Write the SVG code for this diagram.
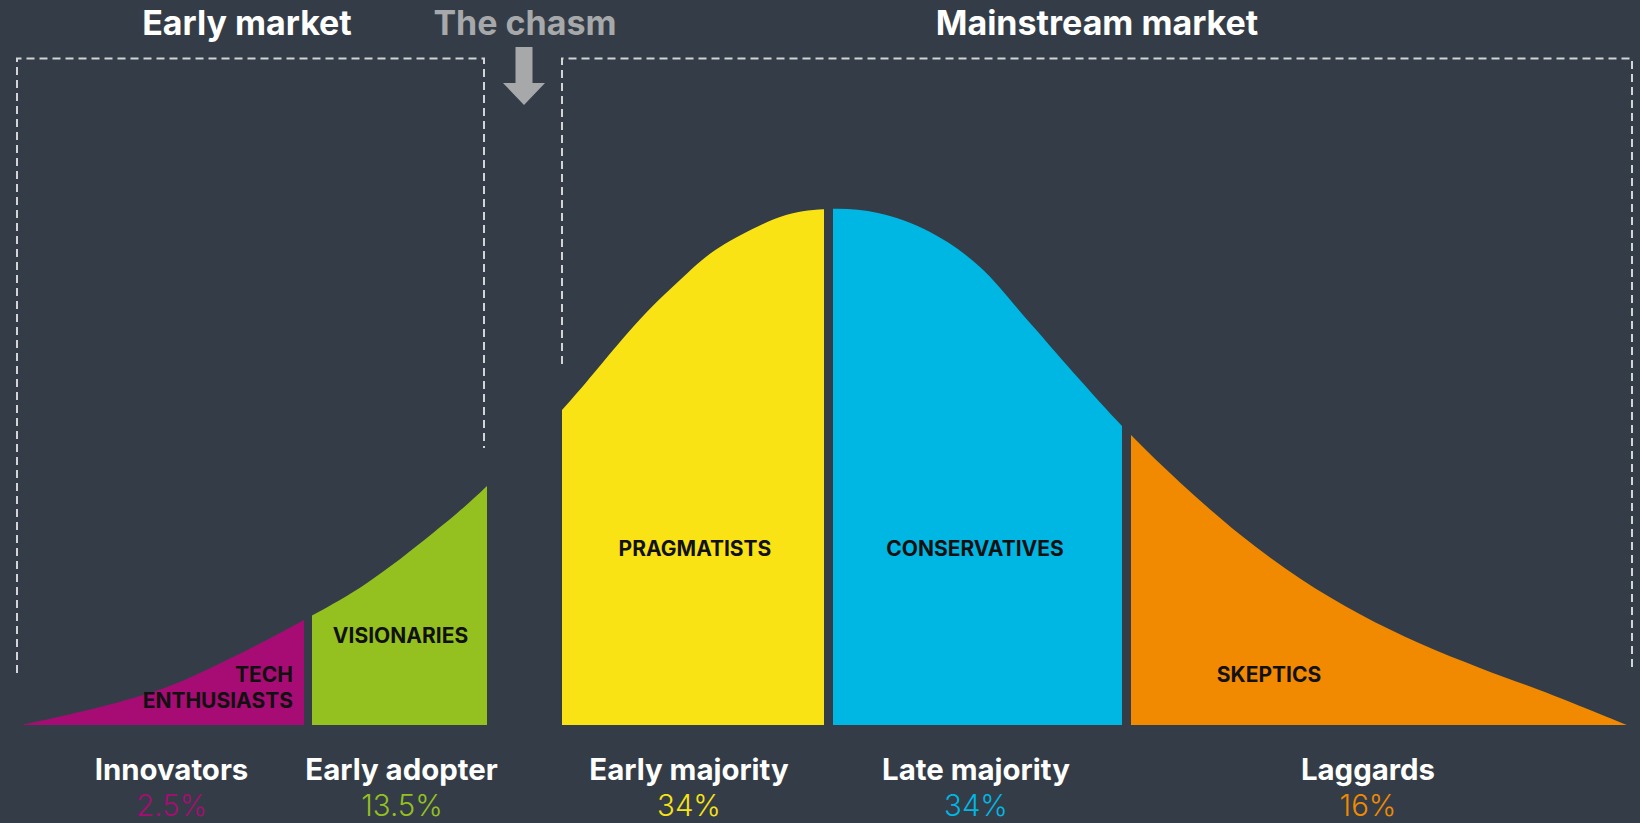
<svg xmlns="http://www.w3.org/2000/svg" xmlns:xlink="http://www.w3.org/1999/xlink" width="1640" height="823" viewBox="0 0 1640 823">
  <style>
    .title { font-family: Inter, "Noto Sans", "Liberation Sans", sans-serif; font-weight: 700; font-size: 34px; text-anchor: middle; }
    .lbl { font-family: Inter, "Noto Sans", "Liberation Sans", sans-serif; font-weight: 700; font-size: 29.4px; fill: #ffffff; text-anchor: middle; }
    .pct { font-family: Inter, "Noto Sans", "Liberation Sans", sans-serif; font-weight: 300; font-size: 29.4px; text-anchor: middle; }
    .inner { font-family: Inter, "Noto Sans", "Liberation Sans", sans-serif; font-weight: 700; font-size: 21px; fill: #111111; text-anchor: middle; }
    .dash { fill: none; stroke: #d2d4d6; stroke-width: 2; stroke-dasharray: 8 5; }
  </style>
  <defs>
    <path id="bell" d="M22 725 C35 722 75.8 713.3 100 707 S144.8 695.3 167 687 S210.2 668.2 233 657 S281.7 632.3 304 620 S345.5 597.5 367 583 S413 549.2 433 533 S465.5 506.5 487 486 S537.7 436.5 562 410 S613.3 348.7 633 327 S665.5 293.3 680 280 S703.3 257.5 720 247 S762 223.3 780 217 S811.7 209.7 828 209 S861 209.2 878 213 S913 223 930 232 S963.3 251.8 980 267 S1013.3 304.2 1030 323 S1064.2 362.3 1080 380 S1108.3 411.9 1125 429 S1160.8 464.9 1180 482.5 S1220 518.5 1240 534.5 S1280 565.2 1300 578.5 S1340 603.5 1360 614.3 S1400 634.65 1420 643.6 S1460 660.2 1480 668 S1521.7 683.3 1540 690.3 S1575.5 704.2 1590 710 S1620.8 722.5 1627 725 Z"/>
    <clipPath id="c-inn"><rect x="0" y="0" width="304" height="725"/></clipPath>
    <clipPath id="c-ea"><rect x="312" y="0" width="175" height="725"/></clipPath>
    <clipPath id="c-em"><rect x="562" y="0" width="262" height="725"/></clipPath>
    <clipPath id="c-lm"><rect x="833" y="0" width="289" height="725"/></clipPath>
    <clipPath id="c-lag"><rect x="1131" y="0" width="509" height="725"/></clipPath>
  </defs>

  <rect x="0" y="0" width="1640" height="823" fill="#343d47"/>

  <g id="titles">
    <text class="title" x="247" y="35" fill="#ffffff">Early market</text>
    <text class="title" x="525" y="35" fill="#a6a8aa">The chasm</text>
    <text class="title" x="1097" y="35" fill="#ffffff">Mainstream market</text>
  </g>

  <g id="connectors">
    <path class="dash" d="M17 673 V58.5 H484 V448"/>
    <path class="dash" d="M562 364 V58.5 H1632 V672"/>
  </g>

  <g id="chasm-arrow">
    <polygon points="515.5,47 532.5,47 532.5,83 545,83 524,105 503,83 515.5,83" fill="#a6a8aa"/>
  </g>

  <g id="innovators">
    <use xlink:href="#bell" href="#bell" fill="#a60c74" clip-path="url(#c-inn)"/>
    <text class="inner" x="293" y="682" style="text-anchor:end">TECH</text>
    <text class="inner" x="293" y="708" style="text-anchor:end">ENTHUSIASTS</text>
    <text class="lbl" x="171.5" y="780">Innovators</text>
    <text class="pct" x="171.5" y="816" fill="#a60c74">2.5%</text>
  </g>

  <g id="early-adopter">
    <use xlink:href="#bell" href="#bell" fill="#94c11f" clip-path="url(#c-ea)"/>
    <text class="inner" x="400.5" y="643">VISIONARIES</text>
    <text class="lbl" x="401.5" y="780">Early adopter</text>
    <text class="pct" x="402" y="816" fill="#94c11f">13.5%</text>
  </g>

  <g id="early-majority">
    <use xlink:href="#bell" href="#bell" fill="#f9e314" clip-path="url(#c-em)"/>
    <text class="inner" x="695" y="556">PRAGMATISTS</text>
    <text class="lbl" x="689" y="780">Early majority</text>
    <text class="pct" x="689" y="816" fill="#f9e314">34%</text>
  </g>

  <g id="late-majority">
    <use xlink:href="#bell" href="#bell" fill="#00b6e3" clip-path="url(#c-lm)"/>
    <text class="inner" x="975" y="556">CONSERVATIVES</text>
    <text class="lbl" x="976" y="780">Late majority</text>
    <text class="pct" x="976" y="816" fill="#00b6e3">34%</text>
  </g>

  <g id="laggards">
    <use xlink:href="#bell" href="#bell" fill="#f18a00" clip-path="url(#c-lag)"/>
    <text class="inner" x="1269" y="682">SKEPTICS</text>
    <text class="lbl" x="1368" y="780">Laggards</text>
    <text class="pct" x="1368" y="816" fill="#f18a00">16%</text>
  </g>
</svg>
